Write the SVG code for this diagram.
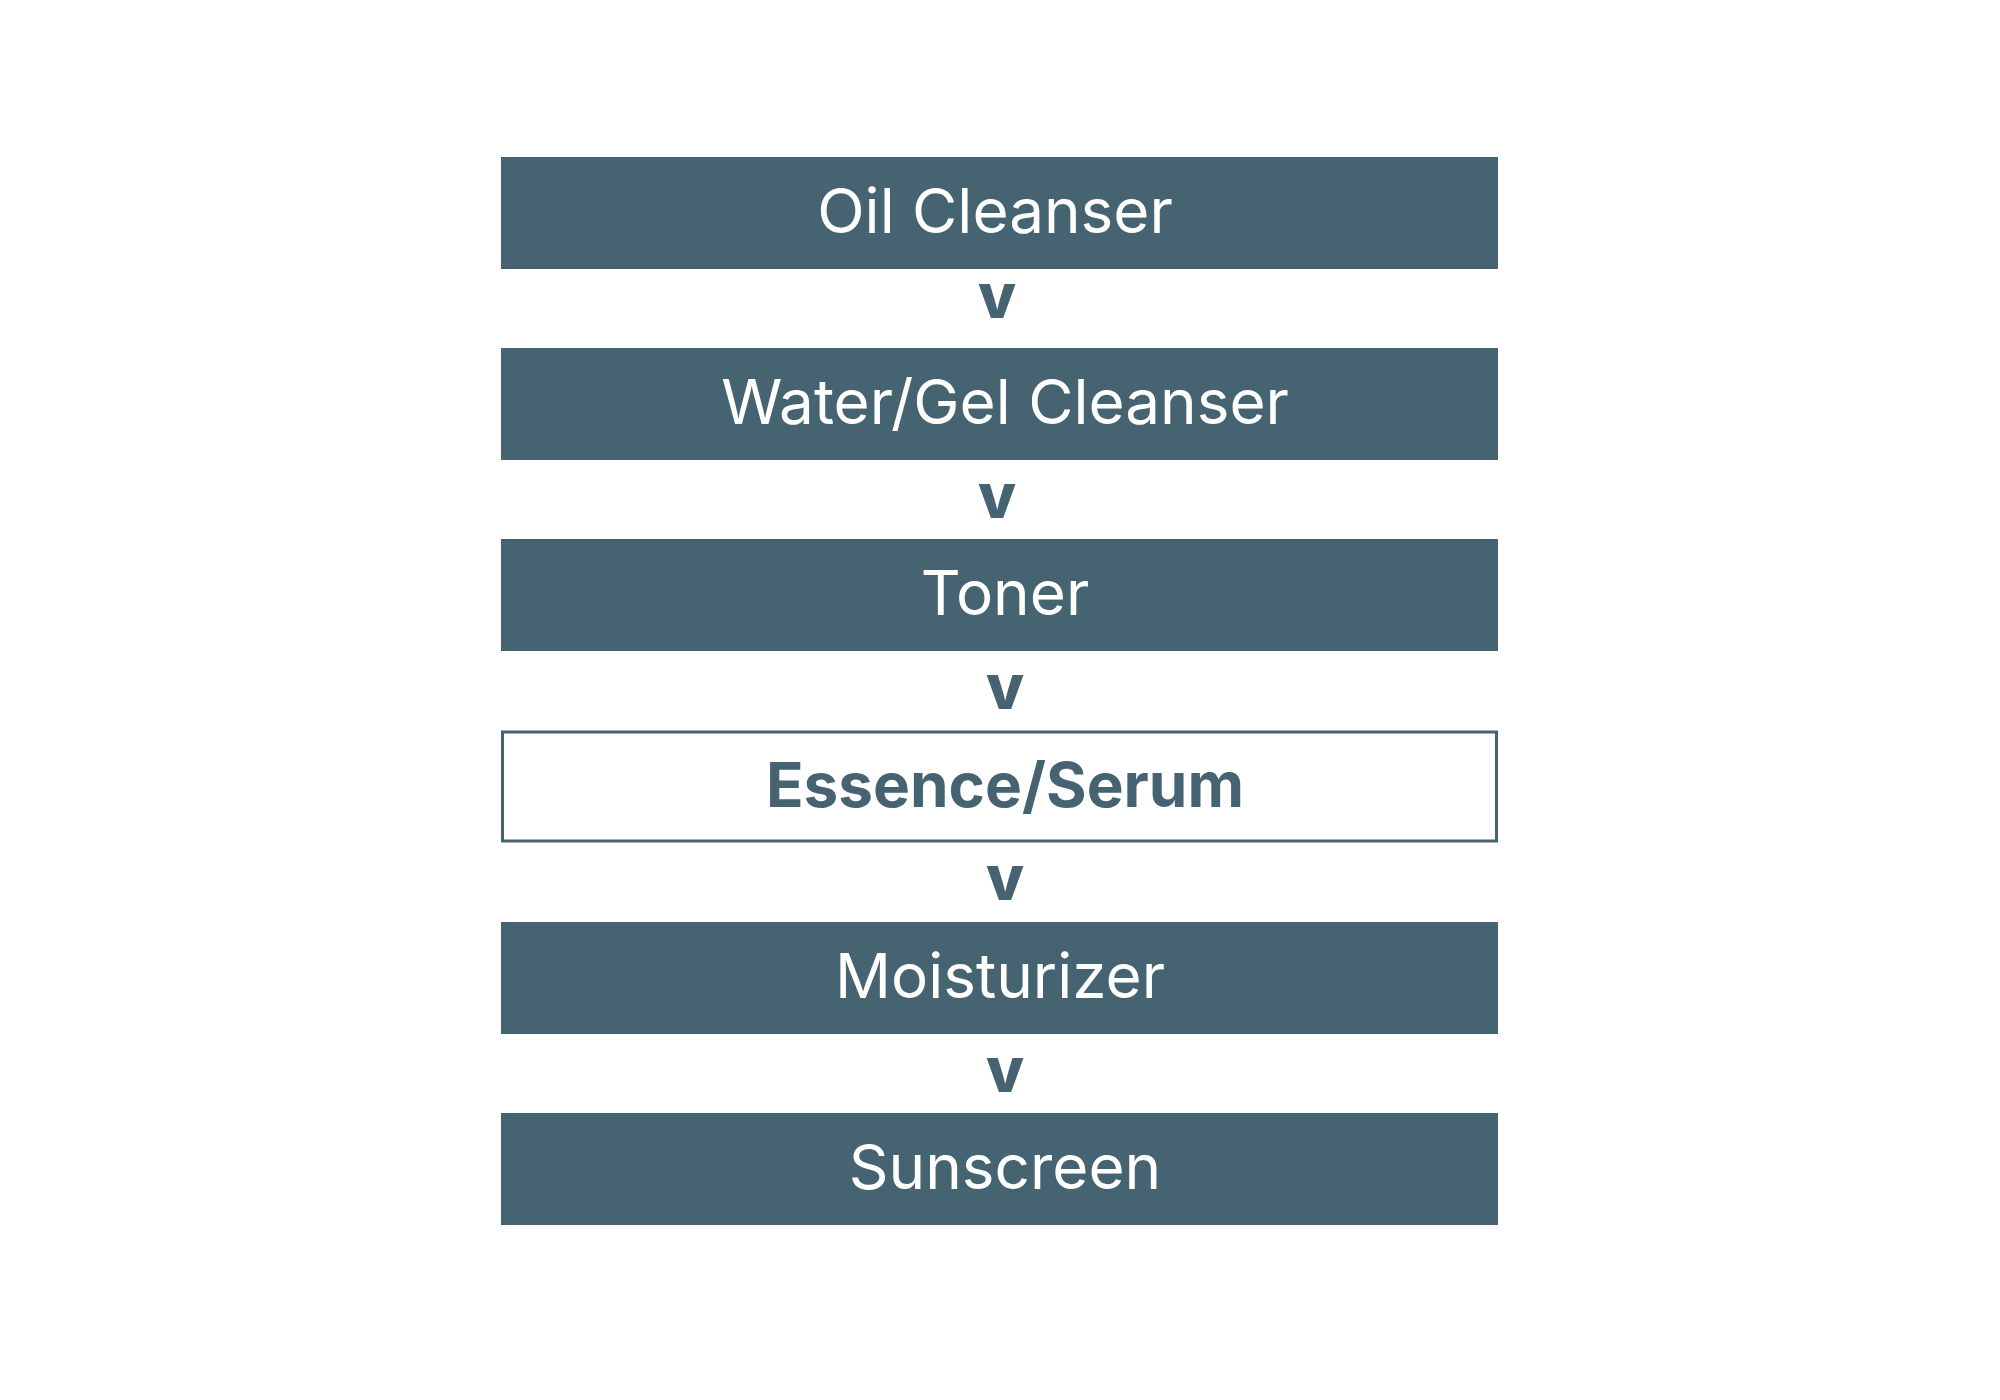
<svg xmlns="http://www.w3.org/2000/svg" width="2000" height="1400" viewBox="0 0 2000 1400">
<style>
.b{fill:#456371}
.o{fill:#fff;stroke:#456371;stroke-width:3}
.t{font-family:Inter,"Liberation Sans",sans-serif;font-size:62px;fill:#fff;text-anchor:middle}
.tb{font-family:Inter,"Liberation Sans",sans-serif;font-size:62px;font-weight:700;fill:#456371;text-anchor:middle}
.v{font-family:Inter,"Liberation Sans",sans-serif;font-size:62px;font-weight:800;fill:#456371;text-anchor:middle}
</style>
<rect width="2000" height="1400" fill="#fff"/>
<g id="n1"><rect class="b" x="501" y="157" width="997" height="112"/><text class="t" x="995" y="233">Oil Cleanser</text></g>
<g id="n2"><rect class="b" x="501" y="348" width="997" height="112"/><text class="t" x="1005" y="424">Water/Gel Cleanser</text></g>
<g id="n3"><rect class="b" x="501" y="539" width="997" height="112"/><text class="t" x="1005" y="615">Toner</text></g>
<g id="n4"><rect class="o" x="502.5" y="732" width="994" height="109"/><text class="tb" x="1005" y="807">Essence/Serum</text></g>
<g id="n5"><rect class="b" x="501" y="922" width="997" height="112"/><text class="t" x="1000" y="998">Moisturizer</text></g>
<g id="n6"><rect class="b" x="501" y="1113" width="997" height="112"/><text class="t" x="1005" y="1189">Sunscreen</text></g>
<g id="connectors">
<text class="v" x="997" y="318">v</text>
<text class="v" x="997" y="518">v</text>
<text class="v" x="1005" y="709">v</text>
<text class="v" x="1005" y="900">v</text>
<text class="v" x="1005" y="1092">v</text>
</g>
</svg>
